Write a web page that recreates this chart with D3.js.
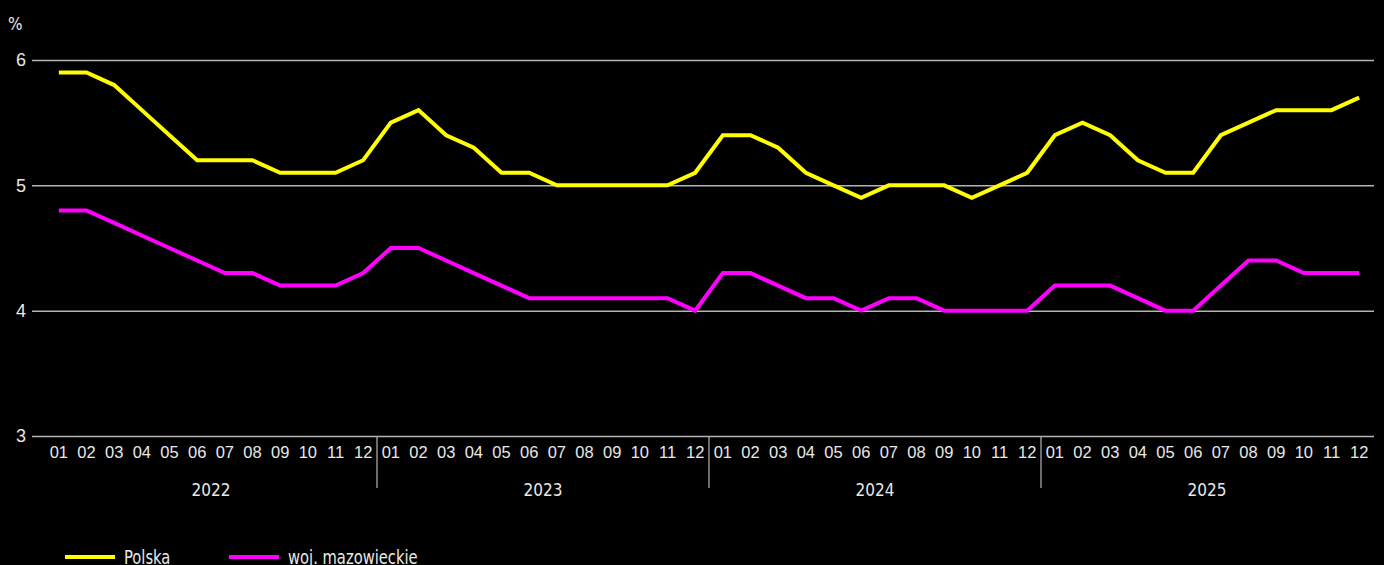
<!DOCTYPE html>
<html>
<head>
<meta charset="utf-8">
<script src="https://cdn.jsdelivr.net/npm/d3@7"></script>
<style>
  html, body { margin: 0; padding: 0; background: #000; }
  svg { display: block; font-family: "DejaVu Sans Condensed", "DejaVu Sans", sans-serif; }
</style>
</head>
<body>
<div id="chart"></div>
<script>
const years = ["2022", "2023", "2024", "2025"];
const months = ["01", "02", "03", "04", "05", "06", "07", "08", "09", "10", "11", "12"];
const yTicks = [3, 4, 5, 6];

const polska = [
  5.9, 5.9, 5.8, 5.6, 5.4, 5.2, 5.2, 5.2, 5.1, 5.1, 5.1, 5.2,
  5.5, 5.6, 5.4, 5.3, 5.1, 5.1, 5.0, 5.0, 5.0, 5.0, 5.0, 5.1,
  5.4, 5.4, 5.3, 5.1, 5.0, 4.9, 5.0, 5.0, 5.0, 4.9, 5.0, 5.1,
  5.4, 5.5, 5.4, 5.2, 5.1, 5.1, 5.4, 5.5, 5.6, 5.6, 5.6, 5.7
];
const mazowieckie = [
  4.8, 4.8, 4.7, 4.6, 4.5, 4.4, 4.3, 4.3, 4.2, 4.2, 4.2, 4.3,
  4.5, 4.5, 4.4, 4.3, 4.2, 4.1, 4.1, 4.1, 4.1, 4.1, 4.1, 4.0,
  4.3, 4.3, 4.2, 4.1, 4.1, 4.0, 4.1, 4.1, 4.0, 4.0, 4.0, 4.0,
  4.2, 4.2, 4.2, 4.1, 4.0, 4.0, 4.2, 4.4, 4.4, 4.3, 4.3, 4.3
];

const series = [
  { name: "Polska", color: "#ffff00", values: polska },
  { name: "woj. mazowieckie", color: "#ff00ff", values: mazowieckie }
];

const width = 1384;
const height = 565;
const gridLeft = 32;
const gridRight = 1374;

const keys = years.flatMap(y => months.map(m => y + "-" + m));

const x = d3.scaleBand()
    .domain(keys)
    .range([45, 1373]);

const y = d3.scaleLinear()
    .domain([3, 6])
    .range([436, 60]);

const svg = d3.select("#chart").append("svg")
    .attr("width", width)
    .attr("height", height)
    .attr("viewBox", [0, 0, width, height]);

svg.append("rect")
    .attr("width", width)
    .attr("height", height)
    .attr("fill", "#000");

// horizontal grid lines and y labels
svg.append("g")
    .attr("transform", `translate(${gridLeft},0)`)
    .call(d3.axisLeft(y).tickValues(yTicks).tickSize(0).tickPadding(6).tickFormat(d3.format("d")))
    .call(g => g.select(".domain").remove())
    .call(g => g.selectAll(".tick line")
        .attr("x2", gridRight - gridLeft)
        .attr("stroke", "#b4b4b4")
        .attr("stroke-width", 1.5))
    .call(g => g.selectAll(".tick text")
        .attr("fill", "#e8e8e8")
        .attr("font-size", 18));

svg.append("text")
    .attr("x", 8)
    .attr("y", 30)
    .attr("fill", "#e8e8e8")
    .attr("font-size", 17)
    .text("%");

// month labels
svg.append("g")
    .attr("transform", `translate(0,${y(3)})`)
    .call(d3.axisBottom(x).tickSize(0).tickPadding(10).tickFormat(d => d.slice(5)))
    .call(g => g.select(".domain").remove())
    .call(g => g.selectAll(".tick text")
        .attr("fill", "#e8e8e8")
        .attr("font-size", 16.5));

// year separators
svg.append("g")
    .selectAll("line")
    .data(years.slice(1))
    .join("line")
    .attr("x1", d => x(d + "-01"))
    .attr("x2", d => x(d + "-01"))
    .attr("y1", y(3))
    .attr("y2", y(3) + 52)
    .attr("stroke", "#b4b4b4")
    .attr("stroke-width", 1.2);

// year labels
svg.append("g")
    .attr("text-anchor", "middle")
    .selectAll("text")
    .data(years)
    .join("text")
    .attr("x", d => (x(d + "-01") + x(d + "-12") + x.bandwidth()) / 2)
    .attr("y", y(3) + 60)
    .attr("fill", "#e8e8e8")
    .attr("font-size", 17)
    .text(d => d);

// lines
const line = d3.line()
    .x((d, i) => x(keys[i]) + x.bandwidth() / 2)
    .y(d => y(d));

svg.append("g")
    .selectAll("path")
    .data(series)
    .join("path")
    .attr("fill", "none")
    .attr("stroke", d => d.color)
    .attr("stroke-width", 4)
    .attr("stroke-linejoin", "miter")
    .attr("d", d => line(d.values));

// legend
const legendX = [65, 229];
const legend = svg.append("g")
    .selectAll("g")
    .data(series)
    .join("g")
    .attr("transform", (d, i) => `translate(${legendX[i]},557)`);

legend.append("line")
    .attr("x1", 0)
    .attr("x2", 50)
    .attr("stroke", d => d.color)
    .attr("stroke-width", 4);

legend.append("text")
    .attr("transform", "translate(59,7) scale(0.82,1)")
    .attr("fill", "#e8e8e8")
    .attr("font-size", 20)
    .text(d => d.name);
</script>
</body>
</html>
